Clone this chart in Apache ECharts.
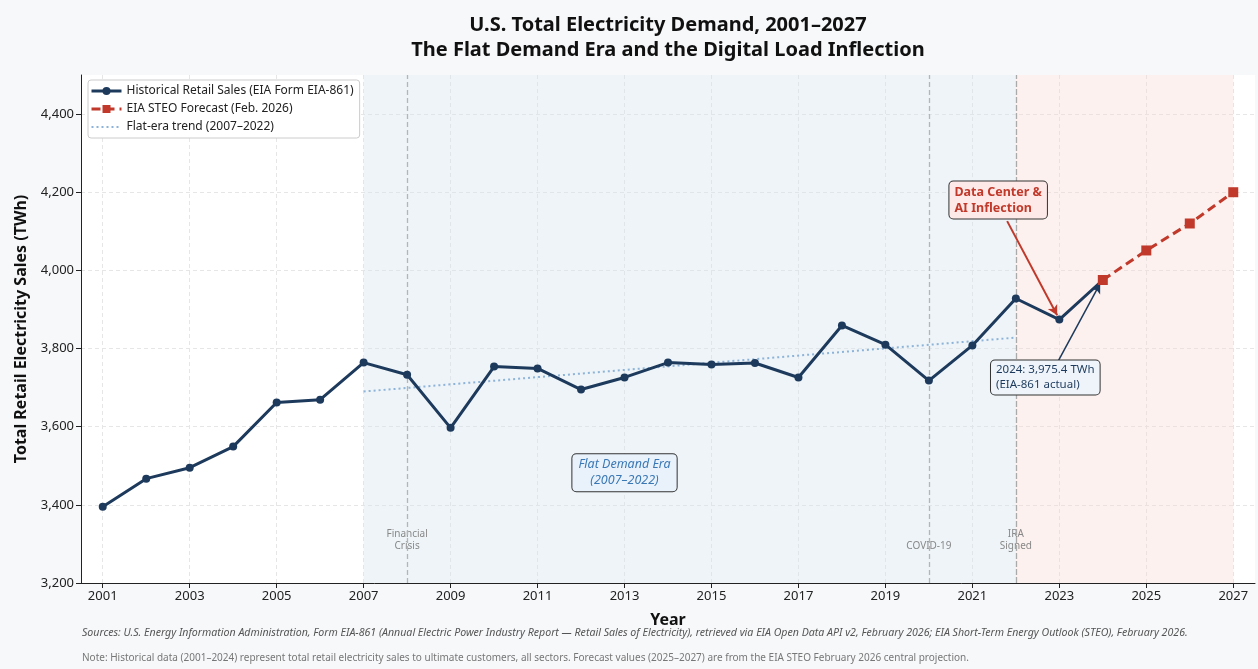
<!DOCTYPE html>
<html><head><meta charset="utf-8">
<script src="https://cdn.jsdelivr.net/npm/echarts@6/dist/echarts.min.js"></script>
<style>html,body{margin:0;padding:0;background:#f7f8fa}#c{width:1258px;height:669px}</style>
</head><body><div id="c"></div>
<script>
const histYears = [2001,2002,2003,2004,2005,2006,2007,2008,2009,2010,2011,2012,2013,2014,2015,2016,2017,2018,2019,2020,2021,2022,2023,2024];
const histValues = [3395,3467,3495,3549,3662,3669,3764,3733,3597,3754,3749,3695,3726,3764,3759,3763,3726,3859,3810,3718,3808,3928,3874,3975.4];
const fcYears = [2024,2025,2026,2027];
const fcValues = [3975.4,4051,4120,4200];
const trendYears = [2007,2022];
const trendValues = [3690,3828];
const xTicks = [2001,2003,2005,2007,2009,2011,2013,2015,2017,2019,2021,2023,2025,2027];
const events = [{year:2008,label:'Financial\nCrisis',y:3310},{year:2020,label:'COVID-19',y:3295},{year:2022,label:'IRA\nSigned',y:3310}];
const flatEra = [2007,2022];
const forecastEra = [2022,2027];

const FONT = 'Noto Sans';
const NAVY = '#1d3a5c';
const RED = '#c0392b';
const zip = (a,b)=>a.map((v,i)=>[v,b[i]]);

const chart = echarts.init(document.getElementById('c'), null, {renderer:'canvas'});
chart.setOption({
  backgroundColor:'#f7f8fa',
  textStyle:{fontFamily:FONT},
  animation:false,
  legend:{
    left:88, top:80, orient:'vertical', itemGap:6, itemWidth:30, itemHeight:10,
    backgroundColor:'#fff', borderColor:'#ccc', borderWidth:1, borderRadius:3, padding:[5,6,5,2],
    textStyle:{fontFamily:FONT,fontSize:12,color:'#222'},
    data:[
      {name:'Historical Retail Sales (EIA Form EIA-861)',lineStyle:{width:3}},
      {name:'EIA STEO Forecast (Feb. 2026)',lineStyle:{width:3}},
      {name:'Flat-era trend (2007–2022)',itemStyle:{opacity:0},lineStyle:{width:2}}
    ]
  },
  grid:{left:81,right:3,top:75,bottom:86,show:true,backgroundColor:'#fff',borderWidth:0},
  xAxis:{
    type:'value', min:2000.5, max:2027.5,
    name:'Year', nameLocation:'middle', nameGap:29,
    nameTextStyle:{fontFamily:FONT,fontSize:16,fontWeight:'bold',color:'#111'},
    axisLine:{show:true,lineStyle:{color:'#222',width:1}},
    axisTick:{show:true,length:5,lineStyle:{color:'#222'},customValues:xTicks},
    axisLabel:{fontFamily:FONT,fontSize:13,color:'#222',margin:7,customValues:xTicks,formatter:v=>String(v)},
    splitLine:{show:true,lineStyle:{color:'#e6e6e6',type:[4,3],width:1}}
  },
  yAxis:{
    type:'value', min:3200, max:4500, interval:200,
    name:'Total Retail Electricity Sales (TWh)', nameLocation:'middle', nameGap:48,
    nameTextStyle:{fontFamily:FONT,fontSize:16,fontWeight:'bold',color:'#111'},
    axisLine:{show:true,lineStyle:{color:'#222',width:1}},
    axisTick:{show:true,length:5,lineStyle:{color:'#222'}},
    axisLabel:{fontFamily:FONT,fontSize:13,color:'#222',margin:7,showMaxLabel:false,
      formatter:v=>v>=4500?'':v.toLocaleString('en-US')},
    splitLine:{show:true,showMaxLine:false,lineStyle:{color:'#e6e6e6',type:[4,3],width:1}}
  },
  series:[
    {
      name:'bands', type:'line', data:[], silent:true, z:1,
      markArea:{silent:true, itemStyle:{borderWidth:0}, data:[
        [{xAxis:flatEra[0],itemStyle:{color:'rgba(214,228,238,0.42)'}},{xAxis:flatEra[1]}],
        [{xAxis:forecastEra[0],itemStyle:{color:'rgba(250,215,210,0.35)'}},{xAxis:forecastEra[1]}]
      ]},
      markLine:{silent:true, symbol:['none','none'], label:{show:false},
        data:events.map(e=>({xAxis:e.year, lineStyle:{color: e.year===2022?'#aaa':'#b5b5b5', type:e.year===2022?[6,2]:[5,3], width:1.3}}))}
    },
    {
      name:'Flat-era trend (2007–2022)', type:'line', z:3,
      data:zip(trendYears,trendValues), symbol:'none', showSymbol:false,
      lineStyle:{color:'#8db3d8',width:2,type:[2,3]}, itemStyle:{color:'#8db3d8'}
    },
    {
      name:'Historical Retail Sales (EIA Form EIA-861)', type:'line', z:5,
      data:zip(histYears,histValues), symbol:'circle', symbolSize:8,
      lineStyle:{color:NAVY,width:3}, itemStyle:{color:NAVY}
    },
    {
      name:'EIA STEO Forecast (Feb. 2026)', type:'line', z:6,
      data:zip(fcYears,fcValues), symbol:'rect', symbolSize:10,
      lineStyle:{color:RED,width:3,type:[9,5]}, itemStyle:{color:RED}
    },
    {
      name:'events', type:'scatter', z:4, silent:true, symbolSize:0, itemStyle:{color:'#888'},
      data:events.map(e=>({value:[e.year,e.y],label:{formatter:e.label}})),
      label:{show:true,position:'inside',fontFamily:FONT,fontSize:10,color:'#888',lineHeight:12,opacity:1}
    },
    {
      name:'notes', type:'scatter', z:8, silent:true, symbolSize:0, itemStyle:{color:NAVY},
      data:[
        {value:[2013,3482],label:{formatter:'Flat Demand Era\n(2007–2022)',fontStyle:'italic',color:'#3a78b5',fontSize:12.5,lineHeight:16,
          backgroundColor:'#e9f2fb',borderColor:'#333',borderWidth:1,borderRadius:4,padding:[3,6,2,6]}},
        {value:[2021.3,4180],label:{formatter:'Data Center &\nAI Inflection',fontWeight:'bold',color:RED,fontSize:12.5,lineHeight:16,
          align:'left', backgroundColor:'#fde9e7',borderColor:'#333',borderWidth:1,borderRadius:4,padding:[3,5,2,5],offset:[-36,0]}},
        {value:[2022.67,3726],label:{formatter:'2024: 3,975.4 TWh\n(EIA-861 actual)',color:'#1d3a5c',fontSize:11.5,lineHeight:15,
          align:'left', backgroundColor:'#eef4fa',borderColor:'#333',borderWidth:1,borderRadius:4,padding:[2,5,2,5],offset:[-54,0]}}
      ],
      label:{show:true,position:'inside',fontFamily:FONT,opacity:1},
      markLine:{silent:true, symbol:['none','arrow'], symbolSize:[8,10], label:{show:false},
        data:[
          [{coord:[2021.8,4126],lineStyle:{color:RED,width:2,type:'solid'}},{coord:[2022.95,3885]}],
          [{coord:[2022.97,3767],lineStyle:{color:NAVY,width:1.5,type:'solid'}},{coord:[2023.94,3967]}]
        ]}
    }
  ],
  graphic:[
    {type:'text',x:668,y:13,style:{text:'U.S. Total Electricity Demand, 2001–2027\nThe Flat Demand Era and the Digital Load Inflection',
      textAlign:'center',font:'bold 20px "Noto Sans"',lineHeight:25,fill:'#111'}},
    {type:'text',left:82,top:627,style:{text:'Sources: U.S. Energy Information Administration, Form EIA-861 (Annual Electric Power Industry Report — Retail Sales of Electricity), retrieved via EIA Open Data API v2, February 2026; EIA Short-Term Energy Outlook (STEO), February 2026.',
      font:'italic 10.6px "Noto Sans"',fill:'#555'}},
    {type:'text',left:82,top:653,style:{text:'Note: Historical data (2001–2024) represent total retail electricity sales to ultimate customers, all sectors. Forecast values (2025–2027) are from the EIA STEO February 2026 central projection.',
      font:'10px "Noto Sans"',fill:'#777'}}
  ]
});
</script></body></html>
